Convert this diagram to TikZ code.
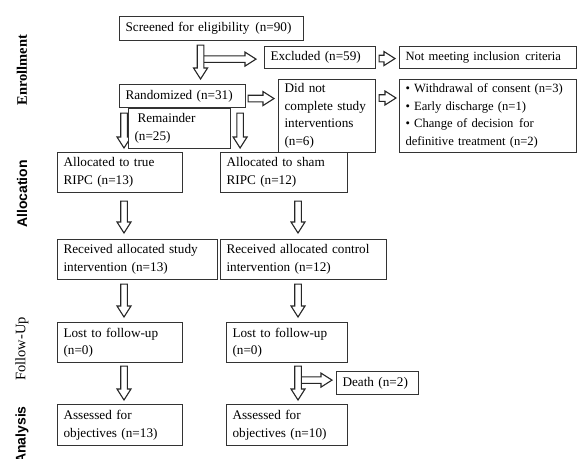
\documentclass[tikz,border=0pt]{standalone}
\usepackage{fontspec}
\setmainfont{Liberation Serif}
\newfontfamily\labsans{Liberation Sans}
\usetikzlibrary{calc}

\tikzset{
  box/.style={draw=black!80, line width=1.1pt, fill=white, anchor=north west,
    align=left, inner xsep=6pt, inner ysep=2pt,
    font=\fontsize{13.2}{17.5}\selectfont},
  smallbox/.style={box, font=\fontsize{12.6}{17.5}\selectfont},
  arrowbox/.style={draw=black!85, line width=1.1pt, fill=white, line join=miter},
  side/.style={rotate=90, inner sep=0pt},
  sideserif/.style={side, font=\fontsize{14.5}{17}\selectfont},
  sidesans/.style={side, font=\labsans\bfseries\fontsize{14}{17}\selectfont}
}

% hollow block arrow from #1 to #2; #2 may refer to (ba-s), the start point
\newcommand\blockarrow[2]{%
  \coordinate (ba-s) at #1;
  \coordinate (ba-e) at #2;
  \coordinate (ba-h) at ($(ba-e)!11pt!(ba-s)$);
  \draw[arrowbox] ($(ba-s)!3.3pt!90:(ba-e)$) -- ($(ba-h)!3.3pt!90:(ba-e)$)
    -- ($(ba-h)!7pt!90:(ba-e)$) -- (ba-e) -- ($(ba-h)!7pt!-90:(ba-e)$)
    -- ($(ba-h)!3.3pt!-90:(ba-e)$) -- ($(ba-s)!3.3pt!-90:(ba-e)$) -- cycle;}

\begin{document}
\begin{tikzpicture}[x=1pt, y=-1pt]
\useasboundingbox (0,0) rectangle (578,458);
\fill[white] (0,0) rectangle (578,458);
\clip (0,0) rectangle (578,458);

% side labels
\node[sideserif, font=\bfseries\fontsize{14.5}{17}\selectfont] (lenr) at (22,70) {Enrollment};
\node[sidesans] (lalloc) at (22,194) {Allocation};
\node[sideserif] (lfu) at (22,349) {Follow-Up};
\node[sidesans] (lan) at (22,435) {Analysis};

% boxes
\node[box, text width=172pt, minimum height=24pt] (scr) at (119,16) {\mbox{Screened for eligibility\hspace{1.5pt} (n=90)}};
\node[box, text width=99pt, minimum height=22pt] (exc) at (264,46) {\mbox{Excluded (n=59)}};
\node[smallbox, text width=165pt, minimum height=22pt] (notm) at (399,46) {\mbox{Not meeting inclusion\hspace{1.5pt} criteria}};
\node[box, text width=114pt, minimum height=23pt] (rand) at (119,84) {\mbox{Randomized (n=31)}};
\node[box, text width=85pt, minimum height=73pt] (dnc) at (278,79) {Did not\\\mbox{complete study}\\interventions\\(n=6)};
\node[smallbox, text width=165pt, minimum height=73pt] (wd) at (399,79) {\mbox{• Withdrawal of consent (n=3)}\\\mbox{• Early discharge (n=1)}\\\mbox{• Change of decision\hspace{1.5pt} for}\\\mbox{definitive treatment (n=2)}};
\node[box, text width=113pt, minimum height=40pt] (at) at (57,152) {\mbox{Allocated to true}\\\mbox{RIPC (n=13)}};
\node[box, text width=115pt, minimum height=40pt] (as) at (220,152) {\mbox{Allocated to sham}\\\mbox{RIPC (n=12)}};
\node[box, text width=148pt, minimum height=40pt] (rs) at (57,239) {\mbox{Received allocated study}\\\mbox{intervention (n=13)}};
\node[box, text width=154pt, minimum height=40pt] (rc) at (220,239) {\mbox{Received allocated control}\\\mbox{intervention (n=12)}};
\node[box, text width=113pt, minimum height=40pt] (l1) at (57,322) {\mbox{Lost to follow-up}\\(n=0)};
\node[box, text width=109pt, minimum height=40pt] (l2) at (226,322) {\mbox{Lost to follow-up}\\(n=0)};
\node[box, text width=113pt, minimum height=41pt] (a1) at (57,404) {\mbox{Assessed for}\\\mbox{objectives (n=13)}};
\node[box, text width=109pt, minimum height=41pt] (a2) at (226,404) {\mbox{Assessed for}\\\mbox{objectives (n=10)}};
\node[box, text width=70pt, minimum height=23pt] (death) at (336,371) {\mbox{Death (n=2)}};

% arrows
\coordinate (j1) at ($(scr.south)+(-11,18)$);
\blockarrow{(j1)}{($(j1 -| exc.west)+(-8,0)$)}
\blockarrow{($(scr.south)+(-11,4)$)}{($(ba-s |- rand.north)+(0,-5)$)}
\blockarrow{($(rand.east)+(2,2.5)$)}{($(ba-s -| dnc.west)+(-4,0)$)}
\blockarrow{($(exc.east)+(3,1)$)}{($(ba-s -| notm.west)+(-4,0)$)}
\blockarrow{($(dnc.north east)+(3,19)$)}{($(ba-s -| wd.west)+(-3,0)$)}
\blockarrow{($(rand.south west)+(5,5)$)}{($(ba-s |- at.north)+(0,-4)$)}
\blockarrow{($(rand.south east)+(-6,5)$)}{($(ba-s |- as.north)+(0,-4)$)}
\blockarrow{($(at.south west)+(67,8)$)}{($(ba-s |- rs.north)+(0,-6)$)}
\blockarrow{($(as.south west)+(78,8)$)}{($(ba-s |- rc.north)+(0,-6)$)}
\blockarrow{($(rs.south west)+(67,4)$)}{($(ba-s |- l1.north)+(0,-5)$)}
\blockarrow{($(rc.south west)+(78,4)$)}{($(ba-s |- l2.north)+(0,-5)$)}
\blockarrow{($(l1.south west)+(67,3)$)}{($(ba-s |- a1.north)+(0,-4)$)}
\coordinate (j2) at ($(l2.south west)+(72,17)$);
\blockarrow{(j2)}{($(j2 -| death.west)+(-4,0)$)}
\blockarrow{($(l2.south west)+(72,3)$)}{($(ba-s |- a2.north)+(0,-4)$)}

% remainder box on top of the arrows
\node[box, text width=90pt, minimum height=40pt] (rem) at (128,108) {\hspace{3pt}Remainder\\(n=25)};
\end{tikzpicture}
\end{document}
